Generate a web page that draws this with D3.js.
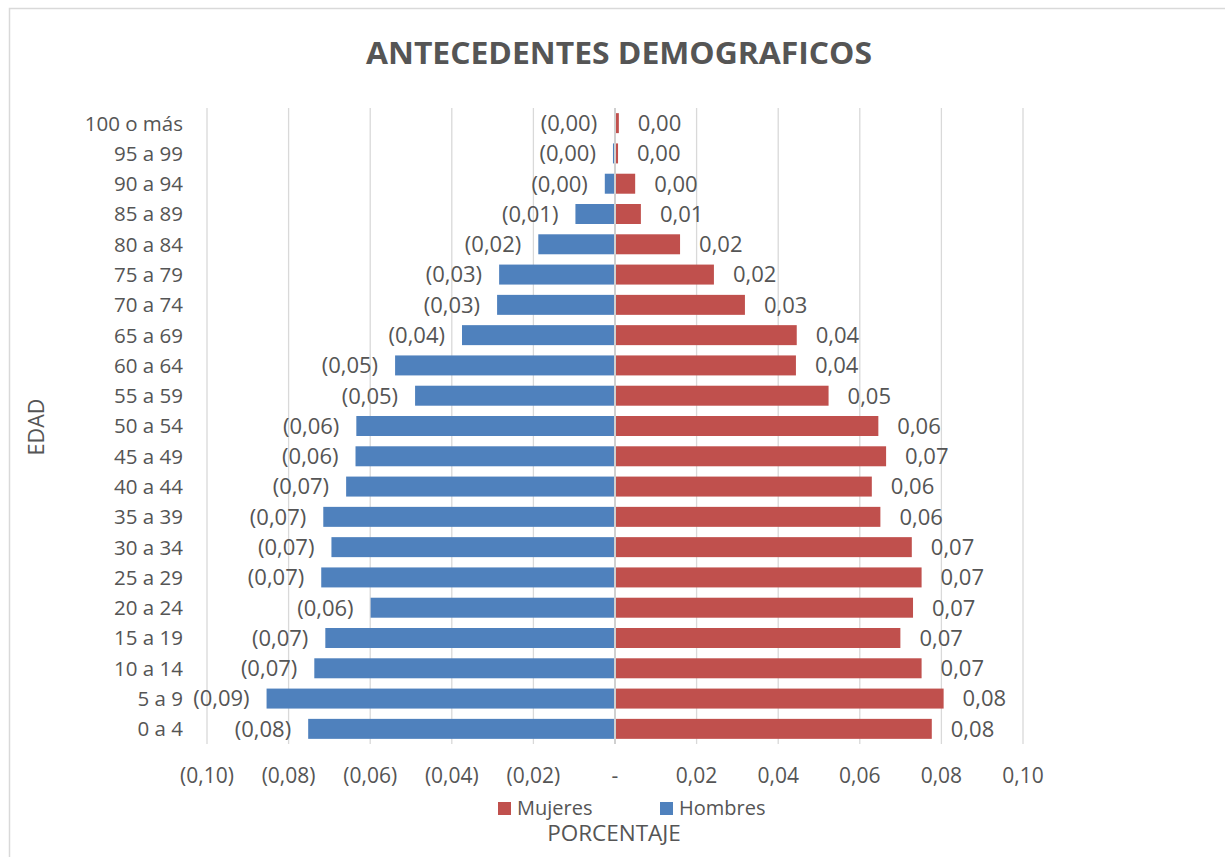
<!DOCTYPE html>
<html><head><meta charset="utf-8">
<script src="https://cdn.jsdelivr.net/npm/d3@7"></script>
<style>body{margin:0;background:#fff}svg{display:block}text{font-family:"Open Sans",sans-serif;fill:#555}</style>
</head><body><svg id="c" width="1225" height="857"></svg>
<script>
const categories = ["0 a 4","5 a 9","10 a 14","15 a 19","20 a 24","25 a 29","30 a 34","35 a 39","40 a 44","45 a 49","50 a 54","55 a 59","60 a 64","65 a 69","70 a 74","75 a 79","80 a 84","85 a 89","90 a 94","95 a 99","100 o más"];
const hombres = [0.0752,0.0854,0.0737,0.0710,0.0599,0.0720,0.0695,0.0715,0.0659,0.0636,0.0634,0.0490,0.0539,0.0375,0.0289,0.0284,0.0188,0.0097,0.0025,0.0005,0.0002];
const mujeres = [0.0774,0.0803,0.0749,0.0697,0.0728,0.0749,0.0725,0.0648,0.0627,0.0662,0.0643,0.0521,0.0441,0.0443,0.0316,0.0240,0.0157,0.0061,0.0047,0.0005,0.0007];
const xTicks = [-0.10,-0.08,-0.06,-0.04,-0.02,0,0.02,0.04,0.06,0.08,0.10];
const title = "ANTECEDENTES DEMOGRAFICOS";
const yTitle = "EDAD", xTitle = "PORCENTAJE";
const seriesNames = ["Mujeres","Hombres"];
const colors = {Mujeres:"#c0504d", Hombres:"#4f81bd"};

const svg = d3.select("#c");
const fmt = v => { const s = d3.format(".2f")(Math.abs(v)).replace(".", ","); return v < 0 ? "(" + s + ")" : s; };
const tickFmt = v => Math.abs(v) < 1e-9 ? "-" : fmt(v);

svg.append("rect").attr("x",9.5).attr("y",8.5).attr("width",1240).attr("height",880)
  .attr("fill","#fff").attr("stroke","#d9d9d9").attr("stroke-width",1.5);

const x = d3.scaleLinear().domain([-0.10,0.10]).range([207,1023]);
const y = d3.scaleBand().domain(categories.slice().reverse()).range([108,744]).paddingInner(0.34).paddingOuter(0.17);
const yc = d => y(d) + y.bandwidth()/2;

// gridlines
svg.append("g").selectAll("line").data(xTicks.filter(t=>t!==0)).join("line")
  .attr("x1",d=>x(d)).attr("x2",d=>x(d)).attr("y1",108).attr("y2",744)
  .attr("stroke","#d9d9d9").attr("stroke-width",1.3);

// bars
svg.append("g").selectAll("rect").data(categories).join("rect")
  .attr("x",(d,i)=>x(-hombres[i])).attr("width",(d,i)=>x(0)-x(-hombres[i]))
  .attr("y",d=>y(d)).attr("height",y.bandwidth()).attr("fill",colors.Hombres);
svg.append("g").selectAll("rect").data(categories).join("rect")
  .attr("x",x(0)+1).attr("width",(d,i)=>x(mujeres[i])-x(0))
  .attr("y",d=>y(d)).attr("height",y.bandwidth()).attr("fill",colors.Mujeres);

// zero axis line
svg.append("line").attr("x1",x(0)).attr("x2",x(0)).attr("y1",108).attr("y2",744)
  .attr("stroke","#d0d0d0").attr("stroke-width",2);

// data labels
svg.append("g").selectAll("text").data(categories).join("text")
  .attr("x",(d,i)=>x(-hombres[i])-17).attr("y",d=>yc(d)).attr("dy","0.36em")
  .attr("text-anchor","end").attr("font-size",22).text((d,i)=>fmt(-hombres[i]));
svg.append("g").selectAll("text").data(categories).join("text")
  .attr("x",(d,i)=>x(mujeres[i])+20).attr("y",d=>yc(d)).attr("dy","0.36em")
  .attr("text-anchor","start").attr("font-size",22).text((d,i)=>fmt(mujeres[i]));

// category labels
svg.append("g").selectAll("text").data(categories).join("text")
  .attr("x",183).attr("y",d=>yc(d)).attr("dy","0.36em").attr("text-anchor","end")
  .attr("font-size",20.5).text(d=>d);

// x tick labels
svg.append("g").selectAll("text").data(xTicks).join("text")
  .attr("x",d=>x(d)).attr("y",775).attr("dy","0.36em").attr("text-anchor","middle")
  .attr("font-size",21).text(tickFmt);

// title
svg.append("text").attr("x",619).attr("y",53).attr("dy","0.36em").attr("text-anchor","middle")
  .attr("font-size",31).attr("font-weight","bold").attr("textLength",506).attr("lengthAdjust","spacingAndGlyphs").text(title);

// axis titles
svg.append("text").attr("transform","translate(36,427) rotate(-90)").attr("dy","0.36em")
  .attr("text-anchor","middle").attr("font-size",21.5).text(yTitle);
svg.append("text").attr("x",614).attr("y",833).attr("dy","0.36em").attr("text-anchor","middle")
  .attr("font-size",22.5).text(xTitle);

// legend
const legX = [498, 660];
seriesNames.forEach((n,i)=>{
  svg.append("rect").attr("x",legX[i]).attr("y",802).attr("width",13).attr("height",13).attr("fill",colors[n]);
  svg.append("text").attr("x",legX[i]+19).attr("y",808).attr("dy","0.36em").attr("font-size",20).text(n);
});
</script></body></html>
